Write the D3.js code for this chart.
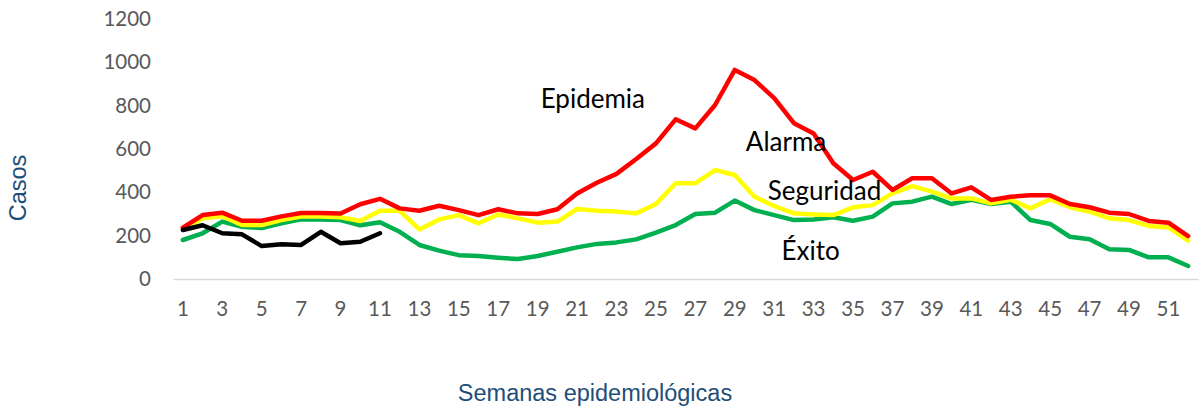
<!DOCTYPE html>
<html>
<head>
<meta charset="utf-8">
<script src="https://cdnjs.cloudflare.com/ajax/libs/d3/7.8.5/d3.min.js"></script>
<style>
  body { margin: 0; background: #fff; }
  .tick text { font-family: Lato, "Open Sans", sans-serif; fill: #595959; }
  .note { font-family: Lato, "Open Sans", sans-serif; fill: #000; }
  .axis-title { font-family: "Liberation Sans", Arial, sans-serif; fill: #1F4E79; }
</style>
</head>
<body>
<div id="chart"></div>
<script>
// Semanas 1..52
var weeks = d3.range(1, 53);

// Canal endémico: upper line (red), middle (yellow), lower (green)
var epidemia = [237, 295, 306, 269, 269, 289, 305, 305, 302, 345, 370, 326, 315, 338, 318, 295, 322, 303, 300, 322,
  395, 444, 485, 554, 626, 737, 695, 803, 965, 918, 835, 719, 672, 534, 457, 495, 411, 465, 465, 395,
  423, 365, 380, 386, 386, 346, 331, 306, 300, 268, 260, 198];
var alarma = [230, 280, 290, 249, 249, 272, 288, 288, 285, 268, 315, 315, 229, 275, 295, 257, 298, 280, 260, 265,
  323, 315, 311, 303, 346, 442, 442, 503, 480, 380, 337, 303, 298, 295, 331, 341, 395, 429, 403, 372,
  372, 349, 366, 326, 368, 331, 311, 280, 272, 245, 238, 177];
var seguridad = [180, 211, 265, 241, 235, 257, 275, 275, 272, 248, 262, 218, 157, 131, 110, 106, 98, 92, 106, 126,
  146, 162, 169, 183, 214, 249, 300, 306, 362, 318, 295, 272, 275, 285, 269, 288, 349, 357, 380, 346,
  365, 346, 357, 272, 254, 195, 183, 137, 134, 100, 100, 60];
// current year, first weeks only
var actual = [226, 248, 211, 206, 152, 160, 157, 218, 165, 172, 211];

var yTicks = [0, 200, 400, 600, 800, 1000, 1200];
var zoneLabels = ['Epidemia', 'Alarma', 'Seguridad', 'Éxito'];

var width = 1199, height = 408;
var plotLeft = 173, plotRight = 1198, plotTop = 19, plotBottom = 279;

var svg = d3.select('#chart').append('svg')
  .attr('width', width)
  .attr('height', height);

var x = d3.scaleBand().domain(weeks).range([plotLeft, plotRight]).padding(0);
var y = d3.scaleLinear().domain([0, 1200]).range([plotBottom, plotTop]);

function cx(d) { return x(d) + x.bandwidth() / 2; }

// y axis (labels only)
var yAxis = svg.append('g')
  .attr('transform', 'translate(' + (plotLeft - 22) + ',0)')
  .call(d3.axisLeft(y).tickValues(yTicks).tickFormat(d3.format('d')).tickSize(0).tickPadding(0));
yAxis.select('.domain').remove();
yAxis.selectAll('text').style('font-size', '20.5px');

// x axis
var xAxis = svg.append('g')
  .attr('transform', 'translate(0,' + plotBottom + ')')
  .call(d3.axisBottom(x)
    .tickValues(weeks.filter(function(d) { return d % 2 === 1; }))
    .tickSize(0).tickPadding(22));
xAxis.select('.domain').attr('stroke', '#D9D9D9').attr('stroke-width', 1.5);
xAxis.selectAll('text').style('font-size', '20.5px');

var line = d3.line()
  .x(function(d, i) { return cx(weeks[i]); })
  .y(function(d) { return y(d); });

var series = [
  { values: seguridad, color: '#00B050' },
  { values: alarma, color: '#FFFF00' },
  { values: epidemia, color: '#FF0000' },
  { values: actual, color: '#000000' }
];

svg.selectAll('path.serie')
  .data(series)
  .enter()
  .append('path')
  .attr('class', 'serie')
  .attr('d', function(d) { return line(d.values); })
  .attr('fill', 'none')
  .attr('stroke', function(d) { return d.color; })
  .attr('stroke-width', 4.5)
  .attr('stroke-linejoin', 'round')
  .attr('stroke-linecap', 'round');

// zone labels, placed in the gaps between the lines (week, value at baseline)
var notePos = [[21.8, 788], [31.6, 592], [33.55, 365], [32.85, 88]];
svg.selectAll('text.note')
  .data(zoneLabels)
  .enter()
  .append('text')
  .attr('class', 'note')
  .attr('x', function(d, i) { return cx(1) + (notePos[i][0] - 1) * x.bandwidth(); })
  .attr('y', function(d, i) { return y(notePos[i][1]); })
  .attr('text-anchor', 'middle')
  .style('font-size', '26px')
  .text(function(d) { return d; });

// axis titles
svg.append('text')
  .attr('class', 'axis-title')
  .attr('x', 595)
  .attr('y', 401)
  .attr('text-anchor', 'middle')
  .style('font-size', '23.5px')
  .text('Semanas epidemiológicas');

svg.append('text')
  .attr('class', 'axis-title')
  .attr('transform', 'translate(26,188) rotate(-90)')
  .attr('text-anchor', 'middle')
  .style('font-size', '23.5px')
  .text('Casos');
</script>
</body>
</html>
